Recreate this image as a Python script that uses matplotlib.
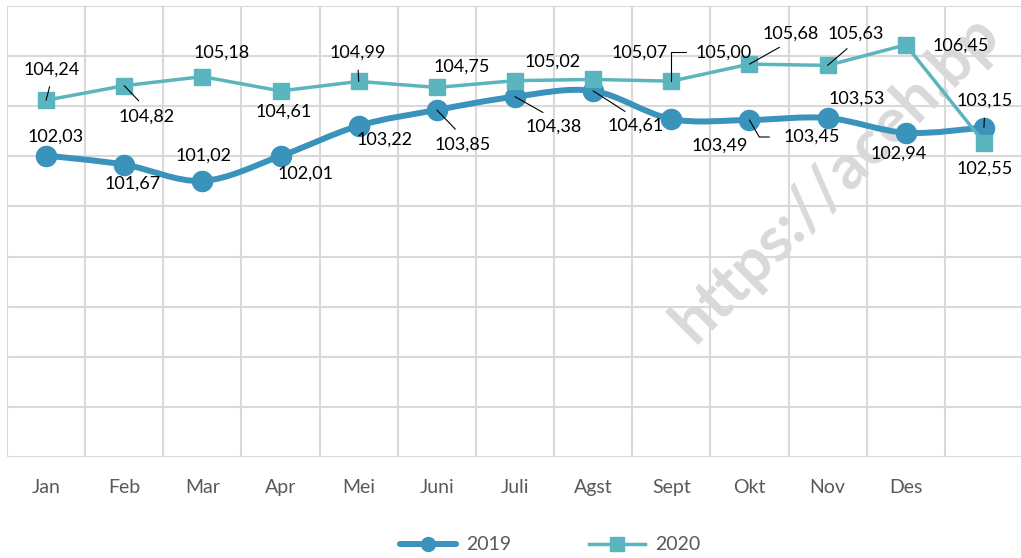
import numpy as np
import matplotlib.pyplot as plt
from matplotlib.path import Path
from matplotlib.patches import PathPatch
from matplotlib.lines import Line2D

# ------------------------------------------------------------------ #
# Data

months = ['Jan', 'Feb', 'Mar', 'Apr', 'Mei', 'Juni', 'Juli', 'Agst',
          'Sept', 'Okt', 'Nov', 'Des', '']
v2019 = [102.03, 101.67, 101.02, 102.01, 103.22, 103.85, 104.38, 104.61,
         103.49, 103.45, 103.53, 102.94, 103.15]
v2020 = [104.24, 104.82, 105.18, 104.61, 104.99, 104.75, 105.02, 105.07,
         105.00, 105.68, 105.63, 106.45, 102.55]

# label offsets (pixels, right / up) and leader kind
off2019 = [(10, 19), (8, -19), (1, 25), (25, -18), (26, -14), (26, -35), (39, -30),
           (42, -35), (48, -27), (62, -17), (29, 19), (-7, -21), (1, 27)]
lead2019 = [None, None, None, None, None, 'line', 'line', 'line', None, 'elbow60',
            None, None, 'line']
off2020 = [(6, 31), (22, -31), (19, 24), (3, -21), (-1, 29), (25, 21), (38, 19),
           (46, 27), (52, 29), (41, 31), (28, 32), (55, -1), (1, -26)]
lead2020 = ['line', 'line', None, None, 'line', None, None, None, 'elbow90',
            'line', 'line', None, None]

c2019 = '#3A93BA'
c2020 = '#5AB5BE'
grid_c = '#D9D9D9'
txt_c = '#595959'

plt.rcParams['font.family'] = ['Lato', 'DejaVu Sans']


def smooth_path(x, y):
    # excel style smoothed line as cubic bezier segments
    n = len(x)
    verts = [(x[0], y[0])]
    codes = [Path.MOVETO]
    for i in range(n - 1):
        xp, yp = (x[i - 1], y[i - 1]) if i > 0 else (x[i], y[i])
        xn, yn = (x[i + 2], y[i + 2]) if i + 2 < n else (x[i + 1], y[i + 1])
        c1 = (x[i] + (x[i + 1] - xp) / 6, y[i] + (y[i + 1] - yp) / 6)
        c2 = (x[i + 1] - (xn - x[i]) / 6, y[i + 1] - (yn - y[i]) / 6)
        verts += [c1, c2, (x[i + 1], y[i + 1])]
        codes += [Path.CURVE4] * 3
    return Path(verts, codes)


def fmt(v):
    return f'{v:.2f}'.replace('.', ',')


def add_labels(ax, x, vals, offs, leads):
    for xi, v, (dx, dy), kind in zip(x, vals, offs, leads):
        props = None
        if kind == 'line':
            rel = (0.5, 1) if dy < 0 else (0.5, 0)
            props = dict(arrowstyle='-', color='black', lw=0.8, shrinkA=5, shrinkB=0,
                         relpos=rel)
        elif kind == 'elbow60':
            props = dict(arrowstyle='-', color='black', lw=0.8, shrinkA=8, shrinkB=0,
                         relpos=(0, 0.5), connectionstyle='angle,angleA=0,angleB=120,rad=0')
        elif kind == 'elbow90':
            props = dict(arrowstyle='-', color='black', lw=0.8, shrinkA=5, shrinkB=0,
                         relpos=(0, 0.5), connectionstyle='angle,angleA=0,angleB=90,rad=0')
        ax.annotate(fmt(v), (xi, v), xytext=(dx, dy), textcoords='offset pixels',
                    ha='center', va='center', fontsize=13, color='black',
                    arrowprops=props, zorder=6)


# ------------------------------------------------------------------ #
# Plot

fig = plt.figure(figsize=(10.21, 5.58), dpi=100)
ax = fig.add_axes([7 / 1021, 1 - 457 / 558, 1016 / 1021, 451 / 558])

x = np.arange(len(months))

ax.add_patch(PathPatch(smooth_path(x, v2019), facecolor='none', edgecolor=c2019,
                       lw=4.3, capstyle='round', joinstyle='round', zorder=3))
ax.plot(x, v2019, linestyle='none', marker='o', ms=14.5, color=c2019, zorder=3)
ax.plot(x, v2020, color=c2020, lw=2.5, marker='s', ms=12, zorder=4)

add_labels(ax, x, v2019, off2019, lead2019)
add_labels(ax, x, v2020, off2020, lead2020)

ax.set_xlim(-0.5, 12.5)
ax.set_ylim(90, 108)
ax.set_yticks(np.arange(90, 109, 2))
ax.set_yticklabels([])
ax.set_xticks(x)
ax.set_xticklabels(months)
ax.set_xticks(np.arange(-0.5, 13, 1), minor=True)
ax.tick_params(which='both', length=0)
ax.tick_params(axis='x', labelsize=14, labelcolor=txt_c, pad=16)
ax.grid(axis='y', which='major', color=grid_c, lw=1.5)
ax.grid(axis='x', which='minor', color=grid_c, lw=1.5)
for s in ax.spines.values():
    s.set_visible(False)
ax.set_axisbelow(True)

# watermark, cut by the right edge as in the source image
ax.text(0.668, 0.405, 'https://aceh.bp', transform=fig.transFigure,
        rotation=45, rotation_mode='anchor', ha='left', va='center',
        fontsize=45, fontweight='bold', color=grid_c, zorder=1.5, clip_on=False)

handles = [Line2D([], [], color=c2019, lw=4.3, marker='o', ms=10, solid_capstyle='round'),
           Line2D([], [], color=c2020, lw=2.5, marker='s', ms=10)]
fig.legend(handles, ['2019', '2020'], loc='center', bbox_to_anchor=(550 / 1021, 1 - 545 / 558),
           ncol=2, frameon=False, handlelength=2.9, columnspacing=4, handletextpad=0.5,
           fontsize=14, labelcolor=txt_c)

fig.savefig('out.png', dpi=100)
